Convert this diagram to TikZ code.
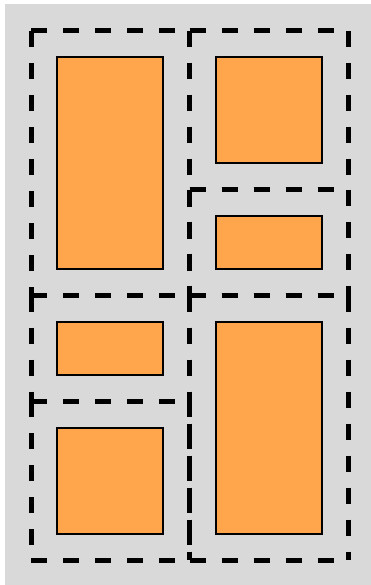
\documentclass[tikz,border=0pt]{standalone}
\definecolor{bggray}{RGB}{217,217,217}
\definecolor{boxorange}{RGB}{255,166,77}
\tikzset{
  cell/.style={draw=black, line width=2pt, fill=boxorange, inner sep=0pt, outer sep=0pt, anchor=north west},
  dashline/.style={draw=black, line width=5pt, line cap=butt, dash pattern=on 16pt off 16pt}
}
\begin{document}
\begin{tikzpicture}[x=1pt,y=-1pt]
\useasboundingbox (0,0) rectangle (371,585);
\fill[white] (0,0) rectangle (371,585);
\fill[bggray] (5,4) rectangle (371,585);
% orange boxes (u = 52.9)
\node[cell, minimum width=105.8pt, minimum height=211.6pt] (lt) at (57.45,57.45) {};
\node[cell, minimum width=105.8pt, minimum height=52.9pt] (lm) at (57.45,321.9) {};
\node[cell, minimum width=105.8pt, minimum height=105.8pt] (lb) at (57.45,427.7) {};
\node[cell, minimum width=105.8pt, minimum height=105.8pt] (rt) at (216.15,57.45) {};
\node[cell, minimum width=105.8pt, minimum height=52.9pt] (rm) at (216.15,216.1) {};
\node[cell, minimum width=105.8pt, minimum height=211.6pt] (rb) at (216.15,321.9) {};
% dashed regions
\foreach \xa/\ya/\xb/\yb in {31/31/189.7/295.5, 31/295.5/189.7/401.3, 31/401.3/189.7/560,
                             189.7/31/348.4/189.7, 189.7/189.7/348.4/295.5, 189.7/295.5/348.4/560} {
  \draw[dashline] (\xa,\ya) -- (\xb,\ya);
  \draw[dashline] (\xa,\ya) -- (\xa,\yb);
  \draw[dashline] (\xb,\ya) -- (\xb,\yb);
  \draw[dashline] (\xa,\yb) -- (\xb,\yb);
}
\end{tikzpicture}
\end{document}
